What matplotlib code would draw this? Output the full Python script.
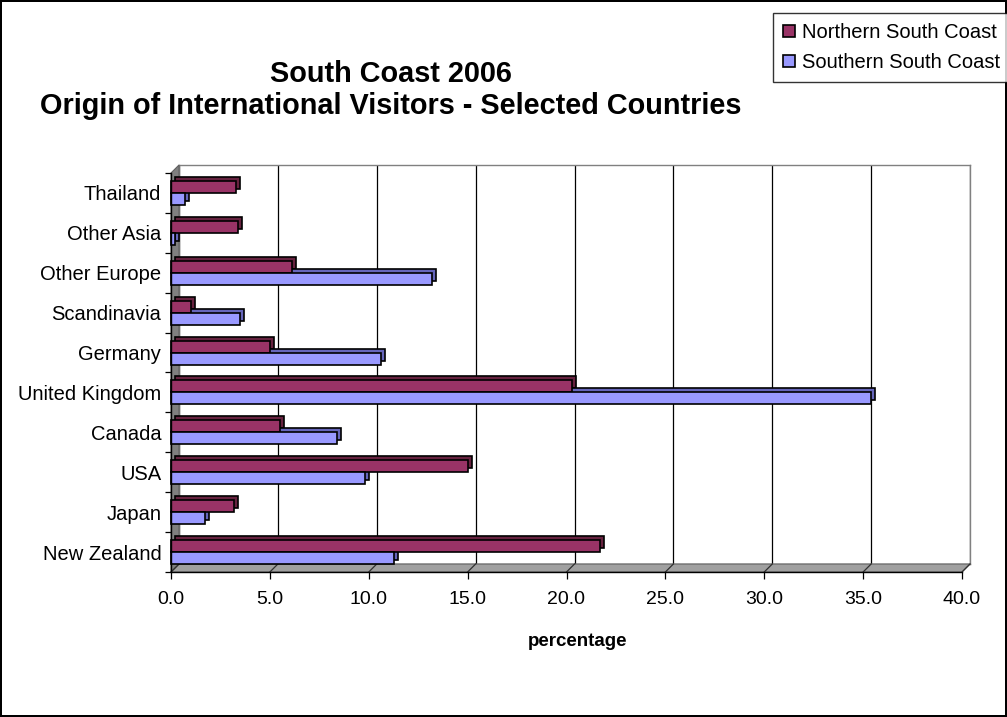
import matplotlib
matplotlib.use("Agg")
import matplotlib.pyplot as plt
import matplotlib.transforms as mtransforms
from matplotlib.patches import Polygon, Patch
from matplotlib.lines import Line2D
import numpy as np

plt.rcParams['font.family'] = ['Liberation Sans', 'DejaVu Sans']

# data (bottom to top)
countries = ['New Zealand', 'Japan', 'USA', 'Canada', 'United Kingdom',
             'Germany', 'Scandinavia', 'Other Europe', 'Other Asia', 'Thailand']
northern = [21.7, 3.2, 15.0, 5.5, 20.3, 5.0, 1.0, 6.1, 3.4, 3.3]
southern = [11.3, 1.7, 9.8, 8.4, 35.4, 10.6, 3.5, 13.2, 0.2, 0.7]
x_ticks = [0, 5, 10, 15, 20, 25, 30, 35, 40]

C_N, C_N_DARK = '#993366', '#66223f'
C_S, C_S_DARK = '#9999ff', '#6666bb'

W, H = 1007, 717
fig = plt.figure(figsize=(W / 100, H / 100), dpi=100)
fig.patch.set_edgecolor('black')
fig.patch.set_linewidth(1.5)


def px_box(l, t, r, b):
    return [l / W, 1 - b / H, (r - l) / W, (b - t) / H]


D = 8  # depth of the 3d walls in px
L, T, R, B = 171, 173, 962, 572

# back wall with gridlines
back = fig.add_axes(px_box(L + D, T - D, R + D, B - D), zorder=0)
back.set_xlim(0, 40)
back.set_ylim(-0.5, 9.5)
back.set_xticks(x_ticks)
back.set_yticks([])
back.grid(axis='x', color='black', lw=0.9)
back.tick_params(length=0, labelbottom=False)
for s in back.spines.values():
    s.set_color('#808080')
    s.set_linewidth(1.0)

# walls: floor and left side
fx = lambda x: x / W
fy = lambda y: 1 - y / H
floor = Polygon([(fx(L), fy(B)), (fx(R), fy(B)), (fx(R + D), fy(B - D)), (fx(L + D), fy(B - D))],
                closed=True, transform=fig.transFigure, facecolor='#a0a0a0',
                edgecolor='#606060', lw=0.8, zorder=1)
side = Polygon([(fx(L), fy(B)), (fx(L + D), fy(B - D)), (fx(L + D), fy(T - D)), (fx(L), fy(T))],
               closed=True, transform=fig.transFigure, facecolor='#808080',
               edgecolor='#606060', lw=0.8, zorder=1)
fig.patches.extend([floor, side])

ax = fig.add_axes(px_box(L, T, R, B), zorder=2)
ax.patch.set_alpha(0)
ax.set_xlim(0, 40)
ax.set_ylim(-0.5, 9.5)

# slanted tick lines on the floor
for v in x_ticks:
    xf = fx(L) + (fx(R) - fx(L)) * v / 40
    fig.lines.append(Line2D([xf, xf + D / W], [fy(B), fy(B - D)], transform=fig.transFigure,
                            color='#303030', lw=0.9, zorder=1.5))

y = np.arange(len(countries))
h = 0.3
shift = mtransforms.ScaledTranslation(4 / 100, 4 / 100, fig.dpi_scale_trans)
tr = ax.transData + shift

# depth (top/right faces) first, then front faces
ax.barh(y + h / 2, northern, height=h, color=C_N_DARK, edgecolor='black', lw=1.2,
        transform=tr, clip_on=False)
ax.barh(y - h / 2, southern, height=h, color=C_S_DARK, edgecolor='black', lw=1.2,
        transform=tr, clip_on=False)
ax.barh(y + h / 2, northern, height=h, color=C_N, edgecolor='black', lw=1.2,
        clip_on=False)
ax.barh(y - h / 2, southern, height=h, color=C_S, edgecolor='black', lw=1.2,
        clip_on=False)

ax.set_yticks(y)
ax.set_yticklabels(countries, fontsize=14.5)
ax.set_yticks(np.arange(-0.5, 10, 1), minor=True)
ax.tick_params(axis='y', which='major', length=0, pad=7)
ax.tick_params(axis='y', which='minor', length=4, width=0.9, direction='out')
ax.set_xticks(x_ticks)
ax.set_xticklabels([f'{v:.1f}' for v in x_ticks], fontsize=14)
ax.tick_params(axis='x', length=5, width=0.9, direction='out', pad=9)
ax.spines['top'].set_visible(False)
ax.spines['right'].set_visible(False)
ax.spines['left'].set_linewidth(1.0)
ax.spines['bottom'].set_linewidth(1.0)
ax.set_xlabel('percentage', fontsize=13.5, fontweight='bold')
ax.xaxis.set_label_coords(0.514, -0.153)

fig.text(391 / W, 1 - 90 / H, 'South Coast 2006\nOrigin of International Visitors - Selected Countries',
         ha='center', va='center', fontsize=20.8, fontweight='bold', linespacing=1.15)

handles = [Patch(facecolor=C_N, edgecolor='black', lw=1.2, label='Northern South Coast'),
           Patch(facecolor=C_S, edgecolor='black', lw=1.2, label='Southern South Coast')]
leg = fig.legend(handles=handles, loc='upper left', bbox_to_anchor=(773 / W, 1 - 13 / H),
                 fontsize=14.5, frameon=True, fancybox=False, handlelength=0.6,
                 handleheight=0.6, handletextpad=0.35, borderpad=0.5, labelspacing=0.55,
                 borderaxespad=0)
leg.get_frame().set_edgecolor('black')
leg.get_frame().set_linewidth(1.0)

fig.savefig('out.png', dpi=100)
